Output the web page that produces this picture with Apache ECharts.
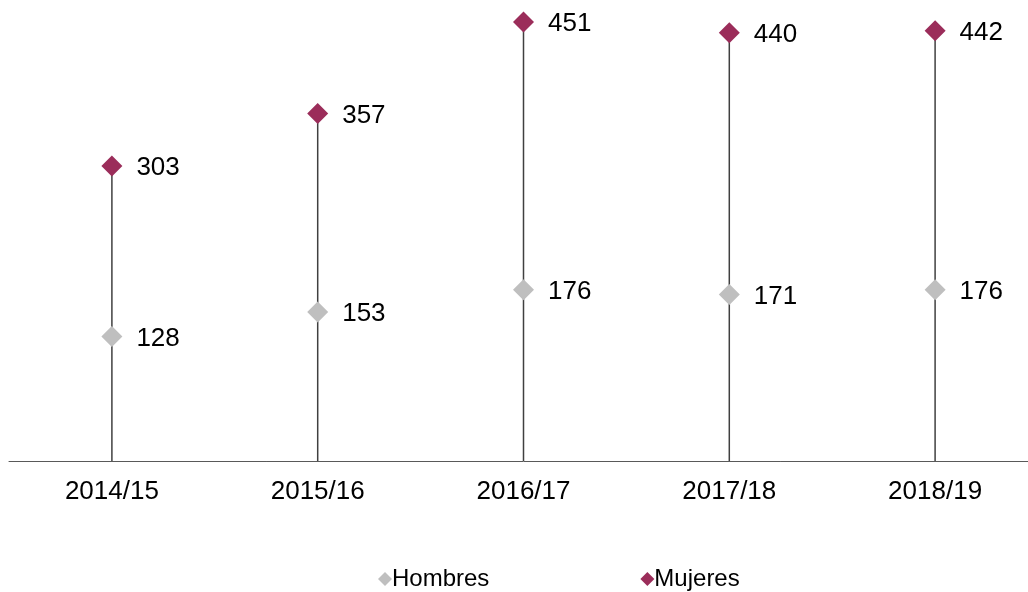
<!DOCTYPE html>
<html><head><meta charset="utf-8">
<script src="https://cdn.jsdelivr.net/npm/echarts@6/dist/echarts.min.js"></script>
<style>html,body{margin:0;padding:0;background:#fff;overflow:hidden}#c{width:1038px;height:592px}</style>
</head><body><div id="c"></div>
<script>
var categories = ['2014/15','2015/16','2016/17','2017/18','2018/19'];
var hombres = [128,153,176,171,176];
var mujeres = [303,357,451,440,442];

var chart = echarts.init(document.getElementById('c'));
var font = 'Liberation Sans, Arial, sans-serif';
chart.setOption({
  animation:false,
  grid:{left:9,right:0,top:3.5,bottom:131},
  xAxis:{type:'category',data:categories,
    axisLine:{lineStyle:{color:'#595959',width:1}},
    axisTick:{show:false},
    axisLabel:{color:'#000',fontSize:26,fontFamily:font,margin:18}},
  yAxis:{type:'value',min:0,max:470,show:false,splitLine:{show:false}},
  legend:{top:562,left:373,data:['Hombres','Mujeres'],itemGap:151,itemWidth:14,itemHeight:14,icon:'diamond',
    textStyle:{fontSize:24,fontFamily:font,color:'#000',padding:[0,0,0,-5]}},
  series:[
    {name:'line',type:'bar',data:mujeres,barWidth:1.5,itemStyle:{color:'#404040'},silent:true,legendHoverLink:false},
    {name:'Hombres',type:'scatter',data:hombres,symbol:'diamond',symbolSize:21,itemStyle:{color:'#BFBFBF',opacity:1},
      label:{show:true,position:'right',distance:14,offset:[0,2],fontSize:26,fontFamily:font,color:'#000'}},
    {name:'Mujeres',type:'scatter',data:mujeres,symbol:'diamond',symbolSize:21,itemStyle:{color:'#9B2D5A',opacity:1},
      label:{show:true,position:'right',distance:14,offset:[0,2],fontSize:26,fontFamily:font,color:'#000'}}
  ]
});
</script></body></html>
